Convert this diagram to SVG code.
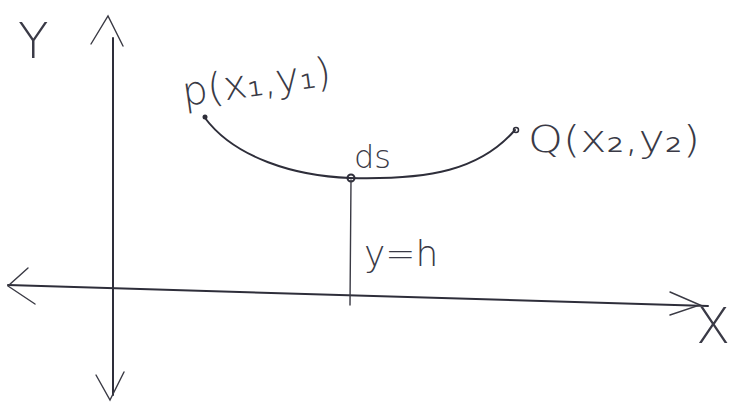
<svg xmlns="http://www.w3.org/2000/svg" width="743" height="410" viewBox="0 0 743 410">
<style>
.ln{fill:none;stroke:#2e2e3a;stroke-width:2;stroke-linecap:round;stroke-linejoin:round}
.th{fill:none;stroke:#3a3a44;stroke-width:1.4;stroke-linecap:round}
.t{font-family:"DejaVu Sans","Liberation Sans",sans-serif;fill:#3a3a46;font-weight:200}
</style>
<rect width="743" height="410" fill="#ffffff"/>
<g id="axes">
<path class="ln" d="M113 38 L113 395"/>
<path class="th" d="M91 44 L108 16 L123 46"/>
<path class="th" d="M96 375 L110 400 L124 372"/>
<path class="ln" d="M8 285 L708 306" stroke="#3b3d5a"/>
<path class="th" d="M28 268 L8 286 L35 304"/>
<path class="th" d="M670 292 L700 305 L670 315"/>
</g>
<g id="curve">
<path class="ln" d="M205 118 C235 158 295 176 350 178 C430 180 480 170 515 130"/>
<circle cx="205" cy="117" r="2.5" fill="#2e2e3a"/>
<circle cx="516" cy="130" r="2.5" fill="none" stroke="#2e2e3a" stroke-width="1.5"/>
<circle cx="351" cy="178" r="3.5" fill="none" stroke="#2e2e3a" stroke-width="2"/>
<path class="th" d="M351 180 L350 305"/>
</g>
<g id="labels">
<text class="t" x="18" y="58" font-size="50">Y</text>
<text class="t" x="696" y="343" font-size="50">X</text>
<text class="t" x="184" y="106" font-size="40" textLength="150" lengthAdjust="spacingAndGlyphs" transform="rotate(-8 184 106)">p(x₁,y₁)</text>
<text class="t" x="528" y="152" font-size="38" textLength="172" lengthAdjust="spacingAndGlyphs">Q(x₂,y₂)</text>
<text class="t" x="354" y="168" font-size="32">ds</text>
<text class="t" x="364" y="266" font-size="36">y=h</text>
</g>
</svg>
